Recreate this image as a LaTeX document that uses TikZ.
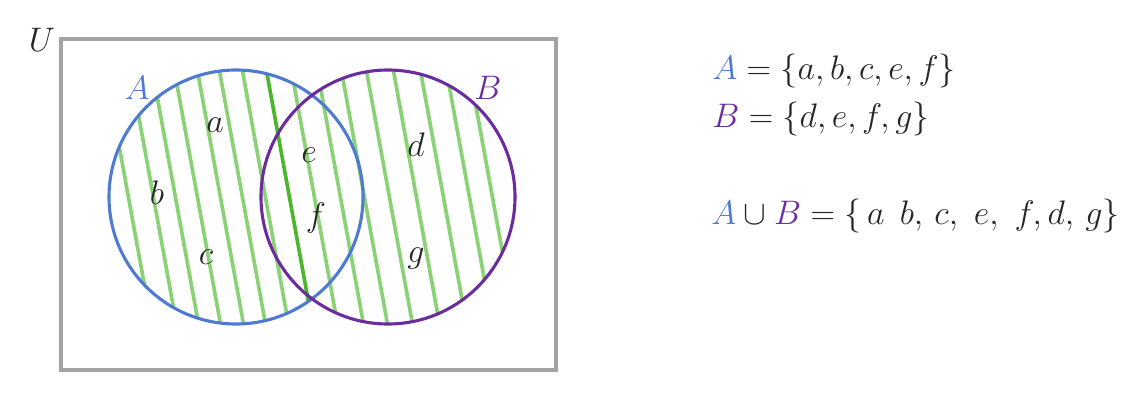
\RequirePackage{fix-cm}
\documentclass[tikz,border=0pt]{standalone}
\usepackage{amsmath}
\usepackage{amssymb}
\usepackage{tikz}
\usetikzlibrary{positioning}
\definecolor{setblue}{HTML}{4F7AD2}
\definecolor{setpurple}{HTML}{6B2D9E}
\definecolor{hatchgreen}{HTML}{8AD275}
\definecolor{hatchdark}{HTML}{4DB62E}
\definecolor{univgray}{HTML}{A3A3A3}
\definecolor{inkgray}{HTML}{262626}

\begin{document}
\begin{tikzpicture}[x=0.25mm, y=-0.25mm, font=\fontsize{24.2}{29}\selectfont, text=inkgray,
    hatch/.style={draw=hatchgreen, line width=2.6pt},
    ring/.style={line width=2.2pt},
    elem/.style={inner sep=0pt}]
    \useasboundingbox (0,0) rectangle (1128,400);

    % universe
    \draw[draw=univgray, line width=2.2pt] (61,39) rectangle (556,370);
    \node (lblU) at (42,40) {$U$};

    % hatching of the union
    \begin{scope}
      \clip (236,197) circle[radius=127] (388,197) circle[radius=127];
      \foreach \xm in {128,153,175,197,220,242,265,314,340,364,389,416,443,469,492}
        \draw[hatch] (\xm-24.5,60) -- (\xm+25.5,335);
      \draw[draw=hatchdark, line width=2.6pt] (289-24.5,60) -- (289+25.5,335);
    \end{scope}

    % the two sets
    \draw[ring, draw=setblue] (236,197) circle[radius=127];
    \draw[ring, draw=setpurple] (388,197) circle[radius=127];
    \node[text=setblue] (lblA) at (137,88) {$A$};
    \node[text=setpurple] (lblB) at (488,88) {$B$};

    % elements
    \node[elem] (ea) at (215,125) {$a$};
    \node[elem] (eb) at (157,193) {$b$};
    \node[elem] (ec) at (206,257) {$c$};
    \node[elem] (ee) at (309,155) {$e$};
    \node[elem] (ef) at (316,218) {$f$};
    \node[elem] (ed) at (416,145) {$d$};
    \node[elem] (eg) at (416,258) {$g$};

    % set notation
    \node[anchor=base west, inner sep=0pt] (defA) at (712,79)
      {$\textcolor{setblue}{A}=\{a,b,c,e,f\}$};
    \node[anchor=base west, inner sep=0pt] (defB) at (712,127)
      {$\textcolor{setpurple}{B}=\{d,e,f,g\}$};
    \node[anchor=base west, inner sep=0pt] (defU) at (711,224)
      {$\textcolor{setblue}{A}\cup\textcolor{setpurple}{B}=\{\,a\;\,b,\,c,\ e,\ f,d,\,g\}$};
\end{tikzpicture}
\end{document}
